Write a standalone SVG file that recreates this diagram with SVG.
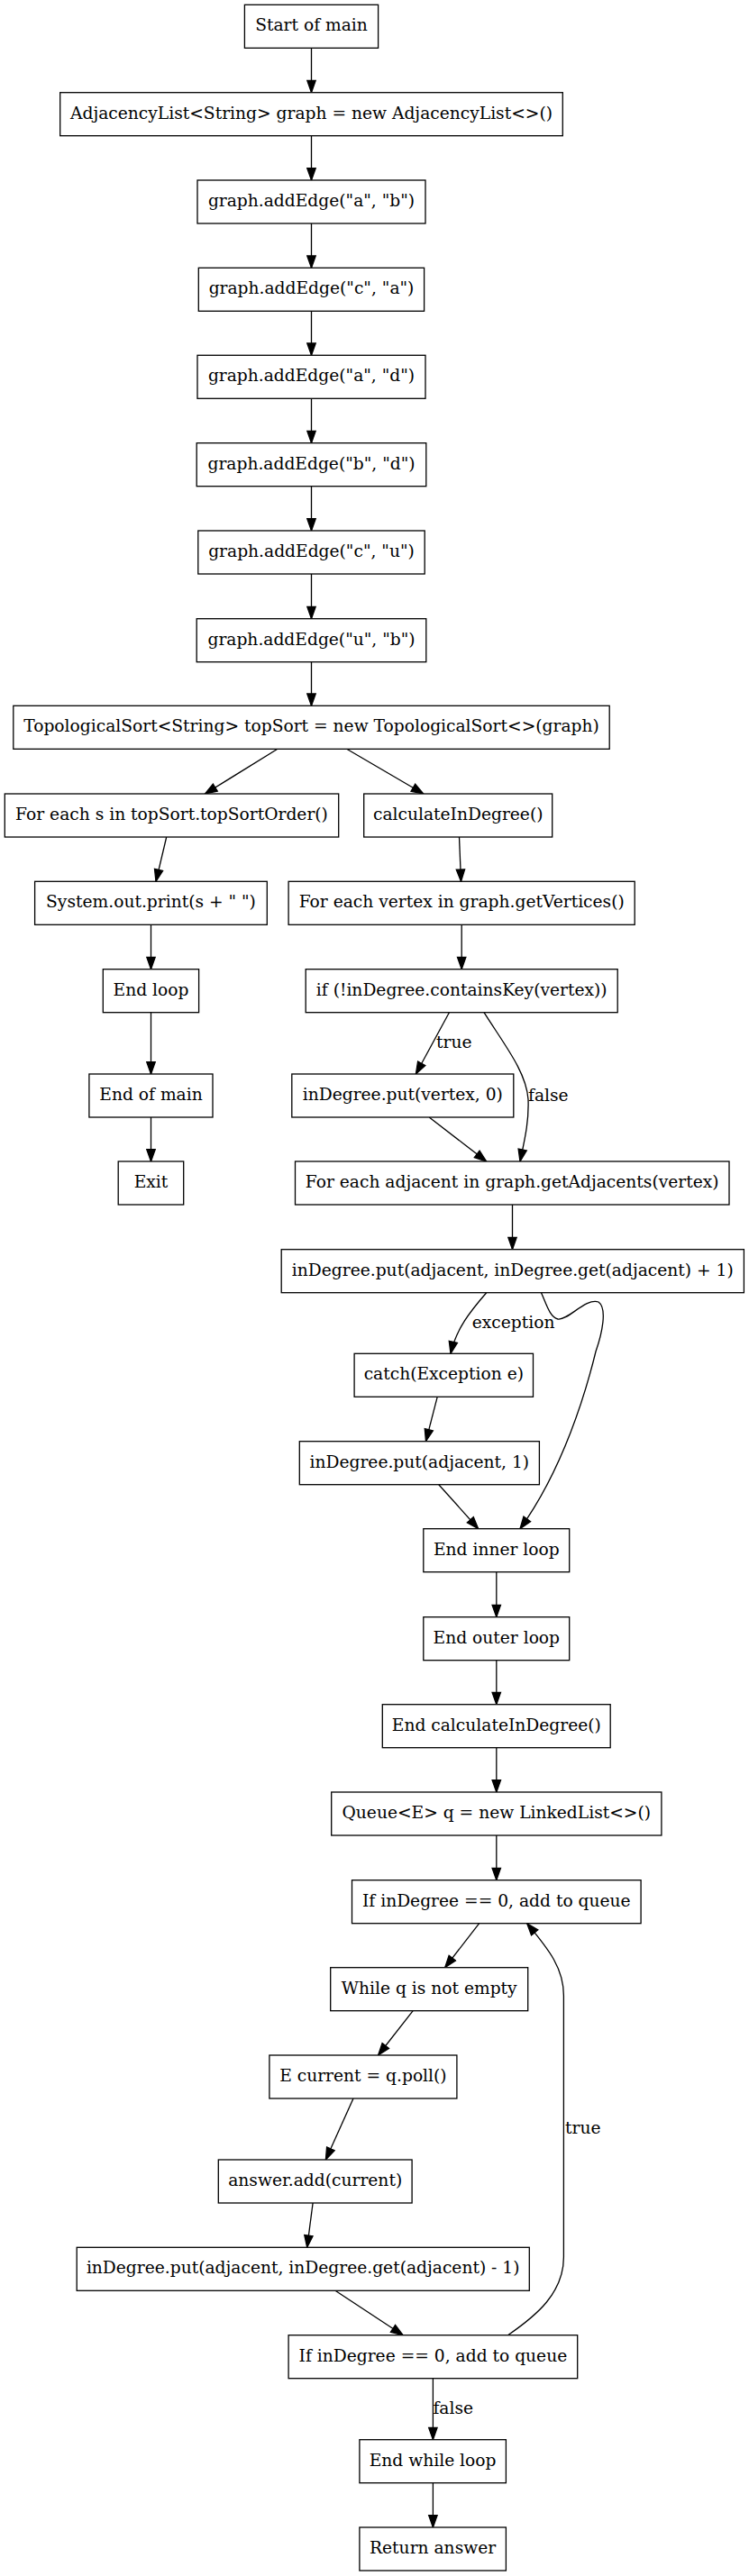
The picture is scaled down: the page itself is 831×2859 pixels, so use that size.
<svg xmlns="http://www.w3.org/2000/svg" width="831" height="2859" viewBox="0 0 831 2859">
<style>
  .n rect { fill: #fff; stroke: #000; stroke-width: 1.3; }
  .n text, .lbl { font-family: "DejaVu Serif", serif; font-size: 18.67px; fill: #000; }
  .n text { text-anchor: middle; }
  .e path { fill: none; stroke: #000; stroke-width: 1.3; marker-end: url(#arr); }
</style>
<defs>
  <marker id="arr" markerUnits="userSpaceOnUse" viewBox="-1 -6 16 12" markerWidth="16" markerHeight="12" refX="13.3" refY="0" orient="auto">
    <path d="M0,-4.7 L13.3,0 L0,4.7 Z" fill="#000" stroke="#000" stroke-width="1.3"/>
  </marker>
</defs>
<rect width="831" height="2859" fill="#fff"/>

<g id="edges" class="e">
  <path d="M345.5,53.3 V102.7"/>
  <path d="M345.5,150.7 V200"/>
  <path d="M345.5,248 V297.3"/>
  <path d="M345.5,345.3 V394.3"/>
  <path d="M345.5,442.3 V491.7"/>
  <path d="M345.5,539.7 V589"/>
  <path d="M345.5,637 V686.7"/>
  <path d="M345.5,734.7 V783.3"/>
  <path d="M307.9,831.3 L227.5,881"/>
  <path d="M384.7,831.3 L469.8,881"/>
  <path d="M184.7,929 L173,978.3"/>
  <path d="M167.5,1026.3 V1075.7"/>
  <path d="M167.5,1123.7 V1192"/>
  <path d="M167.5,1240 V1289"/>
  <path d="M509.5,929 L511.5,978.3"/>
  <path d="M512.2,1026.3 V1075.7"/>
  <path d="M498.4,1123.7 L461.4,1192"/>
  <path d="M537,1123.7 C560,1160 584,1190 586,1220 C587,1245 582,1265 577,1289"/>
  <path d="M476.2,1240 L539.7,1289"/>
  <path d="M568.5,1337 V1386.7"/>
  <path d="M539.7,1434.7 C522,1455 506,1475 500,1502.3"/>
  <path d="M600.5,1434.7 C606,1447 610,1462 619,1464 C630,1466 650,1440 664,1445 C674,1452 668,1480 661,1500 C650,1545 625,1630 577,1696.7"/>
  <path d="M485.2,1550.3 L472.5,1599.7"/>
  <path d="M486.8,1647.7 L530.7,1696.7"/>
  <path d="M550.8,1744.7 V1794.7"/>
  <path d="M550.8,1842.7 V1891.7"/>
  <path d="M550.8,1939.7 V1989"/>
  <path d="M550.8,2037 V2086.7"/>
  <path d="M531.7,2134.7 L493.7,2183.7"/>
  <path d="M458.2,2231.7 L419.6,2281"/>
  <path d="M392,2329 L361.4,2397"/>
  <path d="M347.1,2445 L340.7,2494.3"/>
  <path d="M372,2542.3 L447.1,2591.7"/>
  <path d="M563.5,2591.7 C595,2570 625.4,2545 625.4,2505 L625.4,2215 C625.4,2185 610,2165 584.7,2134.7"/>
  <path d="M480.4,2639.7 V2707.7"/>
  <path d="M480.4,2755.7 V2805"/>
  <text class="lbl" x="484" y="1163">true</text>
  <text class="lbl" x="586" y="1222">false</text>
  <text class="lbl" x="523.8" y="1474">exception</text>
  <text class="lbl" x="627" y="2368">true</text>
  <text class="lbl" x="480.4" y="2679">false</text>
</g>

<g id="start" class="n"><rect x="271.4" y="5.3" width="148.2" height="48"/><text x="345.5" y="34.3">Start of main</text></g>
<g id="adjlist" class="n"><rect x="66.7" y="102.7" width="557.6" height="48"/><text x="345.5" y="131.7">AdjacencyList&lt;String&gt; graph = new AdjacencyList&lt;&gt;()</text></g>
<g id="ab" class="n"><rect x="219" y="200" width="253" height="48"/><text x="345.5" y="229">graph.addEdge("a", "b")</text></g>
<g id="ca" class="n"><rect x="220.3" y="297.3" width="250.3" height="48"/><text x="345.5" y="326.3">graph.addEdge("c", "a")</text></g>
<g id="ad" class="n"><rect x="219" y="394.3" width="253" height="48"/><text x="345.5" y="423.3">graph.addEdge("a", "d")</text></g>
<g id="bd" class="n"><rect x="218.2" y="491.7" width="254.6" height="48"/><text x="345.5" y="520.7">graph.addEdge("b", "d")</text></g>
<g id="cu" class="n"><rect x="219.8" y="589" width="251.4" height="48"/><text x="345.5" y="618">graph.addEdge("c", "u")</text></g>
<g id="ub" class="n"><rect x="218.2" y="686.7" width="254.6" height="48"/><text x="345.5" y="715.7">graph.addEdge("u", "b")</text></g>
<g id="topsort" class="n"><rect x="14.8" y="783.3" width="661.4" height="48"/><text x="345.5" y="812.3">TopologicalSort&lt;String&gt; topSort = new TopologicalSort&lt;&gt;(graph)</text></g>
<g id="foreach_s" class="n"><rect x="5.3" y="881" width="370.4" height="48"/><text x="190.5" y="910">For each s in topSort.topSortOrder()</text></g>
<g id="calc" class="n"><rect x="403.7" y="881" width="209" height="48"/><text x="508.2" y="910">calculateInDegree()</text></g>
<g id="print" class="n"><rect x="38.6" y="978.3" width="257.7" height="48"/><text x="167.5" y="1007.3">System.out.print(s + " ")</text></g>
<g id="foreach_vertex" class="n"><rect x="320.1" y="978.3" width="384.1" height="48"/><text x="512.2" y="1007.3">For each vertex in graph.getVertices()</text></g>
<g id="endloop" class="n"><rect x="114.3" y="1075.7" width="106.3" height="48"/><text x="167.5" y="1104.7">End loop</text></g>
<g id="ifcontains" class="n"><rect x="339.2" y="1075.7" width="346" height="48"/><text x="512.2" y="1104.7">if (!inDegree.containsKey(vertex))</text></g>
<g id="endmain" class="n"><rect x="98.9" y="1192" width="137.1" height="48"/><text x="167.5" y="1221">End of main</text></g>
<g id="put0" class="n"><rect x="323.8" y="1192" width="246" height="48"/><text x="446.8" y="1221">inDegree.put(vertex, 0)</text></g>
<g id="exit" class="n"><rect x="131.2" y="1289" width="72.5" height="48"/><text x="167.5" y="1318">Exit</text></g>
<g id="foreach_adj" class="n"><rect x="327.5" y="1289" width="481.5" height="48"/><text x="568.2" y="1318">For each adjacent in graph.getAdjacents(vertex)</text></g>
<g id="putplus" class="n"><rect x="312.2" y="1386.7" width="513.2" height="48"/><text x="568.8" y="1415.7">inDegree.put(adjacent, inDegree.get(adjacent) + 1)</text></g>
<g id="catch" class="n"><rect x="393.1" y="1502.3" width="198.4" height="48"/><text x="492.3" y="1531.3">catch(Exception e)</text></g>
<g id="put1" class="n"><rect x="332.3" y="1599.7" width="266.1" height="48"/><text x="465.3" y="1628.7">inDegree.put(adjacent, 1)</text></g>
<g id="endinner" class="n"><rect x="469.8" y="1696.7" width="161.9" height="48"/><text x="550.8" y="1725.7">End inner loop</text></g>
<g id="endouter" class="n"><rect x="469.8" y="1794.7" width="161.9" height="48"/><text x="550.8" y="1823.7">End outer loop</text></g>
<g id="endcalc" class="n"><rect x="424.3" y="1891.7" width="252.9" height="48"/><text x="550.8" y="1920.7">End calculateInDegree()</text></g>
<g id="queue" class="n"><rect x="367.7" y="1989" width="366.2" height="48"/><text x="550.8" y="2018">Queue&lt;E&gt; q = new LinkedList&lt;&gt;()</text></g>
<g id="if1" class="n"><rect x="390.5" y="2086.7" width="320.6" height="48"/><text x="550.8" y="2115.7">If inDegree == 0, add to queue</text></g>
<g id="while" class="n"><rect x="366.7" y="2183.7" width="219" height="48"/><text x="476.2" y="2212.7">While q is not empty</text></g>
<g id="poll" class="n"><rect x="298.9" y="2281" width="208" height="48"/><text x="402.9" y="2310">E current = q.poll()</text></g>
<g id="answer" class="n"><rect x="242.3" y="2397" width="214.8" height="48"/><text x="349.7" y="2426">answer.add(current)</text></g>
<g id="putminus" class="n"><rect x="85.2" y="2494.3" width="502.1" height="48"/><text x="336.2" y="2523.3">inDegree.put(adjacent, inDegree.get(adjacent) - 1)</text></g>
<g id="if2" class="n"><rect x="320.1" y="2591.7" width="320.6" height="48"/><text x="480.4" y="2620.7">If inDegree == 0, add to queue</text></g>
<g id="endwhile" class="n"><rect x="398.9" y="2707.7" width="162.5" height="48"/><text x="480.1" y="2736.7">End while loop</text></g>
<g id="return" class="n"><rect x="398.9" y="2805" width="162.5" height="48"/><text x="480.1" y="2834">Return answer</text></g>
</svg>
